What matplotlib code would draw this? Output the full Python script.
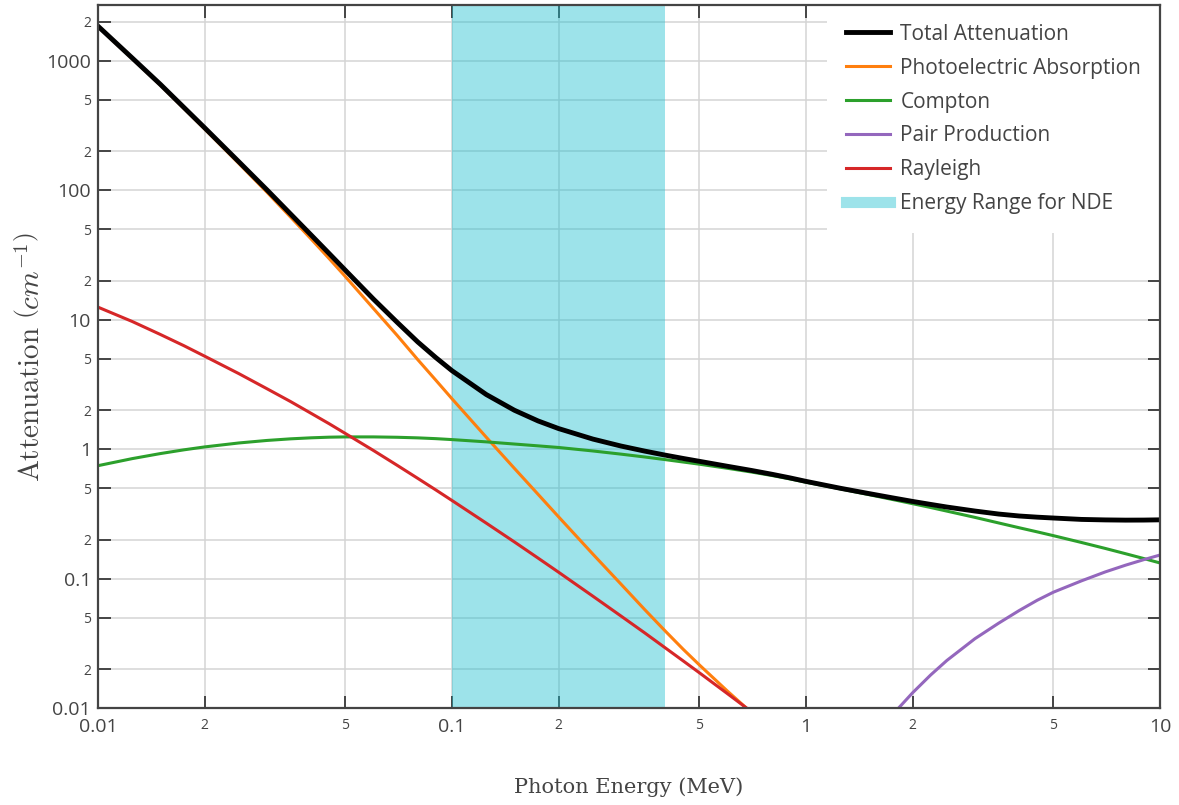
import matplotlib
matplotlib.use("Agg")
import matplotlib.pyplot as plt
from matplotlib.lines import Line2D
from matplotlib.ticker import LogLocator, FuncFormatter

# photon energies (MeV)
energy = [0.01, 0.0125, 0.015, 0.0175, 0.02, 0.025, 0.03, 0.035, 0.04, 0.045,
          0.05, 0.06, 0.07, 0.08, 0.09, 0.1, 0.125, 0.15, 0.175, 0.2,
          0.25, 0.3, 0.35, 0.4, 0.45, 0.5, 0.6, 0.7, 0.8, 0.9,
          1.0, 1.25, 1.5, 1.75, 2.0, 2.25, 2.5, 3.0, 3.5, 4.0,
          4.5, 5.0, 6.0, 7.0, 8.0, 9.0, 10.0]

# linear attenuation coefficients (1/cm)
total = [1853, 1050.5, 658.6, 435.3, 304.3, 165.9, 100.8, 65.5, 45.1, 32.4,
         24.06, 14.42, 9.545, 6.737, 5.099, 4.036, 2.641, 1.998, 1.652, 1.442,
         1.196, 1.057, 0.966, 0.899, 0.847, 0.805, 0.737, 0.685, 0.640, 0.600,
         0.5635, 0.4986, 0.4545, 0.4209, 0.3945, 0.374, 0.357, 0.3325, 0.3152,
         0.3044, 0.2981, 0.2936, 0.2864, 0.2839, 0.2828, 0.2831, 0.2843]
photoelectric = [1840, 1040, 650, 428, 298, 161, 96.7, 62.0, 42.0, 29.6,
                 21.5, 12.2, 7.56, 4.92, 3.41, 2.45, 1.235, 0.711, 0.448, 0.300,
                 0.1545, 0.0907, 0.0577, 0.0394, 0.0284, 0.0215, 0.0135,
                 0.00925, 0.0067, 0.0051, 0.0040, 0.0027, 0.002, 0.0016,
                 0.0013, 0.0011, 0.0009, 0.0007, 0.0006, 0.0005, 0.00045,
                 0.0004, 0.0003, 0.00027, 0.00024, 0.00022, 0.0002]
compton = [0.745, 0.845, 0.924, 0.988, 1.04, 1.116, 1.167, 1.201, 1.223, 1.237,
           1.243, 1.243, 1.235, 1.222, 1.205, 1.185, 1.138, 1.095, 1.06, 1.03,
           0.968, 0.915, 0.87, 0.83, 0.795, 0.765, 0.711, 0.666, 0.626, 0.589,
           0.555, 0.493, 0.446, 0.409, 0.379, 0.354, 0.332, 0.297, 0.269,
           0.247, 0.2295, 0.2145, 0.190, 0.171, 0.1555, 0.1428, 0.132]
rayleigh = [12.5, 9.68, 7.69, 6.29, 5.23, 3.83, 2.93, 2.33, 1.89, 1.57,
            1.32, 0.976, 0.750, 0.595, 0.484, 0.401, 0.268, 0.192, 0.144,
            0.112, 0.0731, 0.0514, 0.0381, 0.0292, 0.0231, 0.0187, 0.0129,
            0.0094, 0.0071, 0.0055, 0.0045, 0.0029, 0.002, 0.0015, 0.0011,
            0.0009, 0.0007, 0.0005, 0.00037, 0.00028, 0.00022, 0.00018,
            0.00013, 0.0001, 0.00007, 0.00006, 0.00005]

# pair production only exists above threshold
pair_energy = [1.5, 1.75, 2.0, 2.25, 2.5, 3.0, 3.5, 4.0, 4.5, 5.0,
               6.0, 7.0, 8.0, 9.0, 10.0]
pair = [0.0045, 0.0088, 0.0131, 0.018, 0.0233, 0.0343, 0.0452, 0.0566,
        0.068, 0.0785, 0.096, 0.1125, 0.127, 0.140, 0.152]

nde_range = (0.1, 0.4)

text_gray = "#444444"
plt.rcParams["mathtext.fontset"] = "cm"

fig = plt.figure(figsize=(11.79, 8.05), dpi=100)
ax = fig.add_axes([98 / 1179, 1 - 708 / 805, 1062 / 1179, 703 / 805])

ax.axvspan(*nde_range, color="#17becf", alpha=0.42, lw=0, zorder=1.8)
ax.plot(energy, total, color="black", lw=3.5, zorder=2.3)
ax.plot(energy, photoelectric, color="#ff7f0e", lw=2.2, zorder=2.1)
ax.plot(energy, compton, color="#2ca02c", lw=2.2, zorder=2.1)
ax.plot(pair_energy, pair, color="#9467bd", lw=2.2, zorder=2.1)
ax.plot(energy, rayleigh, color="#d62728", lw=2.2, zorder=2.1)

ax.set_xscale("log")
ax.set_yscale("log")
ax.set_xlim(0.01, 10)
ax.set_ylim(0.01, 2700)


def major_fmt(v, pos):
    return f"{v:g}"


def minor_fmt(v, pos):
    return f"{v:.1e}"[0]


for axis in (ax.xaxis, ax.yaxis):
    axis.set_major_locator(LogLocator(base=10, numticks=20))
    axis.set_minor_locator(LogLocator(base=10, subs=(2, 5), numticks=20))
    axis.set_major_formatter(FuncFormatter(major_fmt))
    axis.set_minor_formatter(FuncFormatter(minor_fmt))

ax.tick_params(which="both", direction="in", length=9, width=1.4,
               color=text_gray, top=True, right=True, labelcolor=text_gray)
ax.tick_params(axis="y", which="both", pad=5)
ax.tick_params(axis="x", which="both", pad=7)
ax.tick_params(which="major", labelsize=14)
ax.tick_params(which="minor", labelsize=10)
for lab in ax.get_xticklabels(which="both") + ax.get_yticklabels(which="both"):
    lab.set_fontfamily("Open Sans")

ax.grid(True, which="both", color="#d4d4d4", lw=1.1)
for sp in ax.spines.values():
    sp.set_color(text_gray)
    sp.set_linewidth(1.6)

ax.set_xlabel("Photon Energy (MeV)", family="DejaVu Serif", fontsize=15,
              color=text_gray, labelpad=30)
ax.set_ylabel(r"$\mathrm{Attenuation}\ \left(cm^{-1}\right)$", fontsize=21,
              color=text_gray, labelpad=0)

handles = [
    Line2D([], [], color="black", lw=3.5),
    Line2D([], [], color="#ff7f0e", lw=2.2),
    Line2D([], [], color="#2ca02c", lw=2.2),
    Line2D([], [], color="#9467bd", lw=2.2),
    Line2D([], [], color="#d62728", lw=2.2),
    Line2D([], [], color="#17becf", alpha=0.42, lw=8),
]
labels = ["Total Attenuation", "Photoelectric Absorption", "Compton",
          "Pair Production", "Rayleigh", "Energy Range for NDE"]
leg = ax.legend(handles, labels, loc="upper right", borderaxespad=0,
                frameon=True, fancybox=False, framealpha=1,
                facecolor="white", edgecolor="none", handlelength=2.1,
                handletextpad=0.5, labelspacing=0.62, borderpad=0.9,
                prop={"family": "Open Sans", "size": 15})
for t in leg.get_texts():
    t.set_color(text_gray)
leg.set_zorder(2.4)

fig.savefig("out.png", dpi=100)
